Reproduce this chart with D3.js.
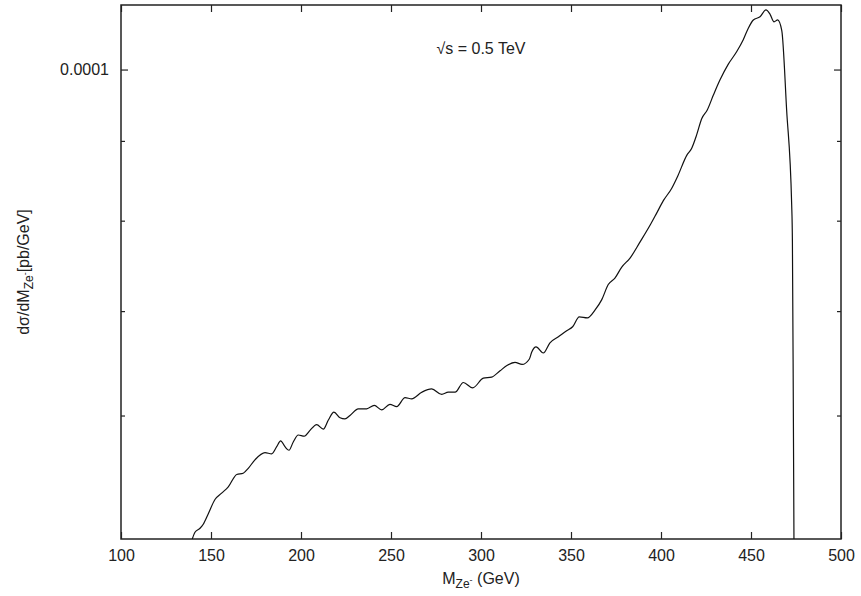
<!DOCTYPE html>
<html>
<head>
<meta charset="utf-8">
<script src="https://cdn.jsdelivr.net/npm/d3@7"></script>
<style>
  html, body { margin: 0; padding: 0; background: #fff; }
  svg { display: block; font-family: "Liberation Sans", Arial, Helvetica, sans-serif; }
</style>
</head>
<body>
<svg id="chart" width="861" height="596"></svg>
<script>
// Invariant-mass distribution of the Z e- system at sqrt(s) = 0.5 TeV
const massGeV = [139.6,141.1,143.9,145.7,148.5,152.2,155.9,159.6,164.3,167.9,
  170.7,174.4,180.0,183.7,186.5,188.7,191.1,193.3,195.7,198.5,
  201.8,205.0,208.7,212.4,215.2,218.3,221.7,224.4,227.2,231.8,
  236.5,240.7,244.8,249.4,253.2,257.8,261.5,267.1,272.6,278.2,
  281.8,285.6,290.2,295.4,301.3,305.9,310.6,314.4,318.9,322.8,
  326.8,328.2,330.6,334.6,338.3,343.0,347.6,350.9,354.6,359.1,
  363.3,367.1,370.7,374.4,378.2,382.8,388.3,394.3,397.6,401.3,
  405.9,409.4,414.3,417.0,419.8,422.6,425.7,429.1,432.8,437.4,
  442.1,445.7,448.5,451.3,455.0,458.3,460.6,462.8,464.8,467.1,
  469.8,472.6,473.0,473.5,473.9];

// dsigma/dM in pb/GeV
const dsigma = [5.00e-5,5.05e-5,5.08e-5,5.11e-5,5.19e-5,5.30e-5,5.35e-5,5.40e-5,5.50e-5,5.51e-5,
  5.55e-5,5.62e-5,5.68e-5,5.67e-5,5.73e-5,5.78e-5,5.73e-5,5.70e-5,5.77e-5,5.83e-5,
  5.82e-5,5.87e-5,5.92e-5,5.88e-5,5.96e-5,6.03e-5,5.98e-5,5.97e-5,6.00e-5,6.06e-5,
  6.06e-5,6.09e-5,6.05e-5,6.10e-5,6.08e-5,6.16e-5,6.15e-5,6.21e-5,6.24e-5,6.19e-5,
  6.21e-5,6.21e-5,6.30e-5,6.25e-5,6.34e-5,6.35e-5,6.41e-5,6.46e-5,6.49e-5,6.47e-5,
  6.52e-5,6.59e-5,6.64e-5,6.58e-5,6.68e-5,6.74e-5,6.80e-5,6.84e-5,6.94e-5,6.93e-5,
  7.01e-5,7.12e-5,7.28e-5,7.35e-5,7.47e-5,7.57e-5,7.75e-5,7.96e-5,8.09e-5,8.24e-5,
  8.39e-5,8.55e-5,8.81e-5,8.90e-5,9.08e-5,9.30e-5,9.42e-5,9.63e-5,9.85e-5,10.08e-5,
  10.27e-5,10.45e-5,10.63e-5,10.76e-5,10.81e-5,10.92e-5,10.85e-5,10.73e-5,10.76e-5,10.59e-5,
  9.42e-5,8.19e-5,7.77e-5,6.14e-5,4.90e-5];

const xTicks = [100,150,200,250,300,350,400,450,500];
const yMajorTicks = [1e-4];
const yMinorTicks = [6e-5,7e-5,8e-5,9e-5];
const xDomain = [100, 500];
const yDomain = [5e-5, 1.1e-4];

const margin = {left: 121, right: 20, top: 5, bottom: 57};
const W = 861, H = 596;
const iw = W - margin.left - margin.right;
const ih = H - margin.top - margin.bottom;

const ink = "#222";
const svg = d3.select("#chart");
const g = svg.append("g").attr("transform", `translate(${margin.left},${margin.top})`);

const x = d3.scaleLinear().domain(xDomain).range([0, iw]);
const y = d3.scaleLog().domain(yDomain).range([ih, 0]);

g.append("clipPath").attr("id", "plotclip")
  .append("rect").attr("width", iw).attr("height", ih);

function styleAxis(sel) {
  sel.select(".domain").remove();
  sel.selectAll(".tick line").attr("stroke", ink).attr("stroke-width", 1.2);
  sel.selectAll(".tick text").attr("fill", ink).attr("font-size", 16)
     .attr("font-family", "Liberation Sans, Arial, sans-serif");
}

// bottom axis with labels, ticks pointing inward
g.append("g").attr("transform", `translate(0,${ih})`)
  .call(d3.axisBottom(x).tickValues(xTicks).tickSizeInner(-7).tickSizeOuter(0).tickPadding(11))
  .call(styleAxis);
// mirrored top ticks
g.append("g")
  .call(d3.axisTop(x).tickValues(xTicks).tickSizeInner(-7).tickSizeOuter(0).tickFormat(""))
  .call(styleAxis);

// left axis: labelled decade tick plus short minor ticks
g.append("g")
  .call(d3.axisLeft(y).tickValues(yMajorTicks).tickSizeInner(-7).tickSizeOuter(0)
    .tickPadding(12).tickFormat(d3.format(".4f")))
  .call(styleAxis);
g.append("g")
  .call(d3.axisLeft(y).tickValues(yMinorTicks).tickSizeInner(-4).tickSizeOuter(0).tickFormat(""))
  .call(styleAxis);
// mirrored right ticks
g.append("g").attr("transform", `translate(${iw},0)`)
  .call(d3.axisRight(y).tickValues(yMajorTicks).tickSizeInner(-7).tickSizeOuter(0).tickFormat(""))
  .call(styleAxis);
g.append("g").attr("transform", `translate(${iw},0)`)
  .call(d3.axisRight(y).tickValues(yMinorTicks).tickSizeInner(-4).tickSizeOuter(0).tickFormat(""))
  .call(styleAxis);

// frame
g.append("rect").attr("width", iw).attr("height", ih)
  .attr("fill", "none").attr("stroke", ink).attr("stroke-width", 1.5);

// distribution curve
const pts = massGeV.map((m, i) => [m, dsigma[i]]);
const line = d3.line().x(d => x(d[0])).y(d => y(d[1])).curve(d3.curveMonotoneX);
g.append("path").datum(pts)
  .attr("clip-path", "url(#plotclip)")
  .attr("d", line)
  .attr("fill", "none").attr("stroke", "#111").attr("stroke-width", 1.2);

// energy annotation
g.append("text")
  .attr("x", iw / 2).attr("y", 49)
  .attr("text-anchor", "middle").attr("font-size", 16).attr("fill", ink)
  .text("\u221As = 0.5 TeV");

// x-axis title
const xt = g.append("text")
  .attr("x", iw / 2).attr("y", ih + 45)
  .attr("text-anchor", "middle").attr("font-size", 16).attr("fill", ink);
xt.append("tspan").text("M");
xt.append("tspan").attr("dy", 4).attr("font-size", 12).text("Ze");
xt.append("tspan").attr("dy", -5).attr("font-size", 9).text("-");
xt.append("tspan").attr("dy", 1).text(" (GeV)");

// y-axis title
const yt = svg.append("text")
  .attr("transform", `translate(29,${margin.top + ih / 2}) rotate(-90)`)
  .attr("text-anchor", "middle").attr("font-size", 16).attr("fill", ink);
yt.append("tspan").text("d\u03C3/dM");
yt.append("tspan").attr("dy", 4).attr("font-size", 12).text("Ze");
yt.append("tspan").attr("dy", -5).attr("font-size", 9).text("-");
yt.append("tspan").attr("dy", 1).text("[pb/GeV]");
</script>
</body>
</html>
